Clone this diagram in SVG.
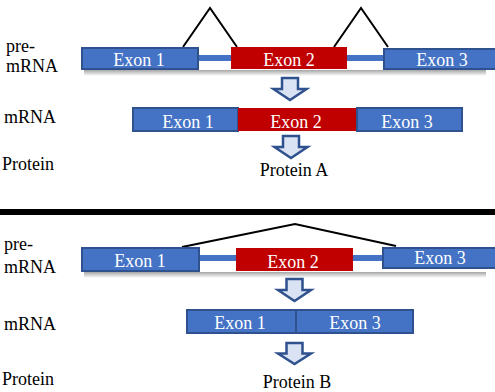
<svg xmlns="http://www.w3.org/2000/svg" width="495" height="392" viewBox="0 0 495 392" font-family="'Liberation Serif', 'Times New Roman', serif">
<defs>
<linearGradient id="sg" x1="0" y1="0" x2="0" y2="1">
<stop offset="0" stop-color="#000" stop-opacity="0.35"/>
<stop offset="1" stop-color="#000" stop-opacity="0"/>
</linearGradient>
</defs>
<style>
text{font-family:"Liberation Serif","Times New Roman",serif;font-size:18px}
.lbl{fill:#000}
.w{fill:#fff;text-anchor:middle}
.c{fill:#000;text-anchor:middle}
.ex{fill:#4472C4;stroke:#2F528F;stroke-width:2}
.red{fill:#C00000}
.intr{fill:#4472C4}
.sh{fill:url(#sg)}
.spl{stroke:#000;stroke-width:2;fill:none}
.arr{fill:#DAE3F3;stroke:#2F528F;stroke-width:2.5;stroke-linejoin:miter}
</style>
<rect width="495" height="392" fill="#fff"/>

<g id="shadows">
<rect class="sh" x="84" y="70" width="402" height="6"/>
<rect class="sh" x="84" y="272" width="402" height="6"/>
</g>

<g id="labels">
<text class="lbl" x="6" y="52">pre-</text>
<text class="lbl" x="6" y="72">mRNA</text>
<text class="lbl" x="4" y="123">mRNA</text>
<text class="lbl" x="2" y="170">Protein</text>
<text class="lbl" x="4" y="250">pre-</text>
<text class="lbl" x="4" y="273">mRNA</text>
<text class="lbl" x="4" y="330">mRNA</text>
<text class="lbl" x="2" y="385">Protein</text>
</g>

<g id="connectors">
<rect class="intr" x="197" y="55" width="36" height="6"/>
<rect class="intr" x="346" y="55" width="39" height="6"/>
<polyline class="spl" points="183,47 210,8 237,47"/>
<polyline class="spl" points="334,47 361,8 388,47"/>
<rect class="intr" x="198" y="255" width="40" height="6"/>
<rect class="intr" x="352" y="255" width="32" height="6"/>
<polyline class="spl" points="182,247 295,224 396,246"/>
<path class="arr" d="M282,78 H298 V89 H306.5 L290,100 L273.5,89 H282 Z"/>
<path class="arr" d="M283,136 H299 V147 H307.5 L291,158 L274.5,147 H283 Z"/>
<path class="arr" d="M286.5,279 H302.5 V290 H311 L294.5,301 L278,290 H286.5 Z"/>
<path class="arr" d="M286.5,343 H302.5 V353.5 H311 L294.5,364 L278,353.5 H286.5 Z"/>
</g>

<line id="separator" x1="0" y1="212" x2="495" y2="212" stroke="#000" stroke-width="6"/>

<g id="preA-exon1"><rect class="ex" x="82" y="48" width="116" height="21"/><text class="w" x="139" y="66">Exon 1</text></g>
<g id="preA-exon2"><rect class="red" x="231" y="47" width="116" height="22"/><text class="w" x="289" y="66">Exon 2</text></g>
<g id="preA-exon3"><rect class="ex" x="384" y="49" width="114" height="20"/><text class="w" x="442" y="66">Exon 3</text></g>

<g id="mA-exon1"><rect class="ex" x="133" y="108" width="105" height="23"/><text class="w" x="188" y="128">Exon 1</text></g>
<g id="mA-exon2"><rect class="red" x="238" y="108" width="119" height="23"/><text class="w" x="296" y="128">Exon 2</text></g>
<g id="mA-exon3"><rect class="ex" x="357" y="108" width="105" height="23"/><text class="w" x="407" y="128">Exon 3</text></g>

<g id="proteinA"><text class="c" x="294" y="176">Protein A</text></g>

<g id="preB-exon1"><rect class="ex" x="82" y="248" width="117" height="23"/><text class="w" x="140" y="267">Exon 1</text></g>
<g id="preB-exon2"><rect class="red" x="236" y="248" width="117" height="23"/><text class="w" x="293" y="268">Exon 2</text></g>
<g id="preB-exon3"><rect class="ex" x="383" y="248" width="114" height="20"/><text class="w" x="440" y="264">Exon 3</text></g>

<g id="mB-exon1"><rect class="ex" x="187" y="310" width="109" height="23"/><text class="w" x="240" y="329">Exon 1</text></g>
<g id="mB-exon3"><rect class="ex" x="296" y="310" width="117" height="23"/><text class="w" x="355" y="329">Exon 3</text></g>

<g id="proteinB"><text class="c" x="297" y="388">Protein B</text></g>
</svg>
